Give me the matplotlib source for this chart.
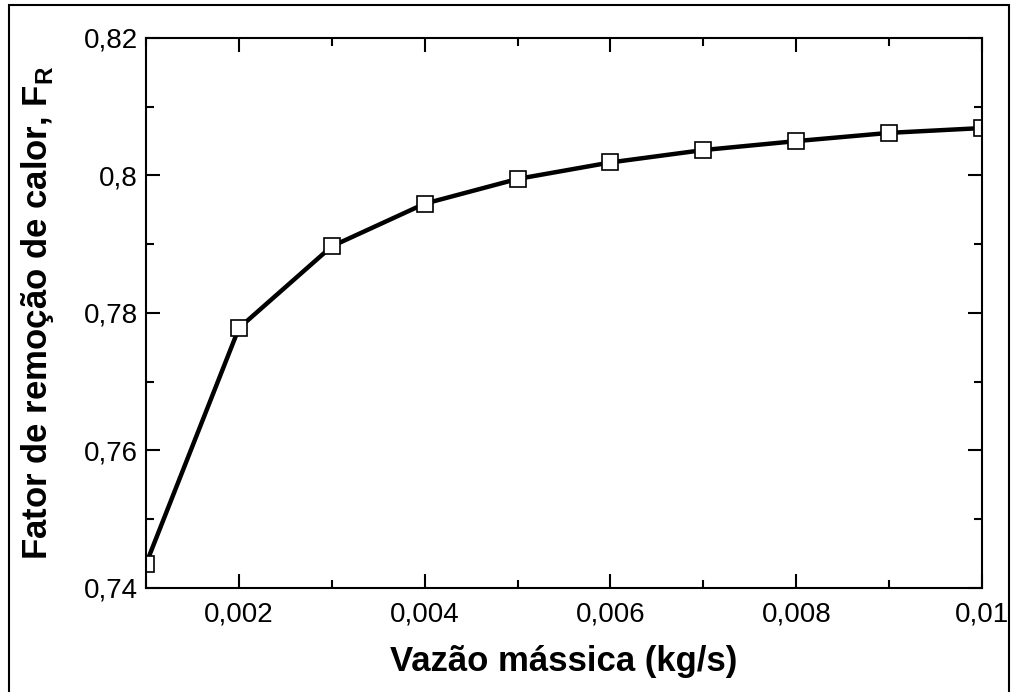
import matplotlib
matplotlib.use("Agg")
import matplotlib.pyplot as plt
from matplotlib.ticker import MultipleLocator, FuncFormatter
from matplotlib.patches import Rectangle

plt.rcParams['font.family'] = ['Liberation Sans', 'DejaVu Sans']
plt.rcParams['mathtext.fontset'] = 'custom'
plt.rcParams['mathtext.bf'] = 'Liberation Sans:bold'
plt.rcParams['mathtext.rm'] = 'Liberation Sans'

vazao = [0.001, 0.002, 0.003, 0.004, 0.005, 0.006, 0.007, 0.008, 0.009, 0.010]
fator_r = [0.7435, 0.7778, 0.7897, 0.7959, 0.7995, 0.8019, 0.8037, 0.8050, 0.8062, 0.8069]


def virgula(v, pos):
    return ('%g' % round(v, 6)).replace('.', ',')


fig = plt.figure(figsize=(10.12, 6.92), dpi=100)
ax = fig.add_axes([0.1443, 0.1503, 0.8261, 0.7948])

ax.plot(vazao, fator_r, color='black', linewidth=3.2, marker='s', markersize=12,
        markerfacecolor='white', markeredgecolor='black', markeredgewidth=1.2)

ax.set_xlim(0.001, 0.01)
ax.set_ylim(0.74, 0.82)
ax.xaxis.set_major_locator(MultipleLocator(0.002))
ax.xaxis.set_minor_locator(MultipleLocator(0.001))
ax.yaxis.set_major_locator(MultipleLocator(0.02))
ax.yaxis.set_minor_locator(MultipleLocator(0.01))
ax.xaxis.set_major_formatter(FuncFormatter(virgula))
ax.yaxis.set_major_formatter(FuncFormatter(virgula))

ax.tick_params(which='both', direction='in', top=True, right=True, width=1.5)
ax.tick_params(which='major', length=10, labelsize=20)
ax.tick_params(which='minor', length=6)
ax.tick_params(axis='x', which='major', pad=10)
ax.tick_params(axis='y', which='major', pad=6)
for s in ax.spines.values():
    s.set_linewidth(1.5)

ax.set_xlabel('Vazão mássica (kg/s)', fontsize=25, fontweight='bold', labelpad=12)
ax.set_ylabel('Fator de remoção de calor, F$_\\mathbf{R}$', fontsize=25,
              fontweight='bold', labelpad=20)

fig.patches.append(Rectangle((9 / 1012, -0.05), 1000 / 1012, 1.05 - 5 / 692,
                             transform=fig.transFigure, fill=False,
                             edgecolor='black', linewidth=1.5))

fig.savefig('out.png', dpi=100)
